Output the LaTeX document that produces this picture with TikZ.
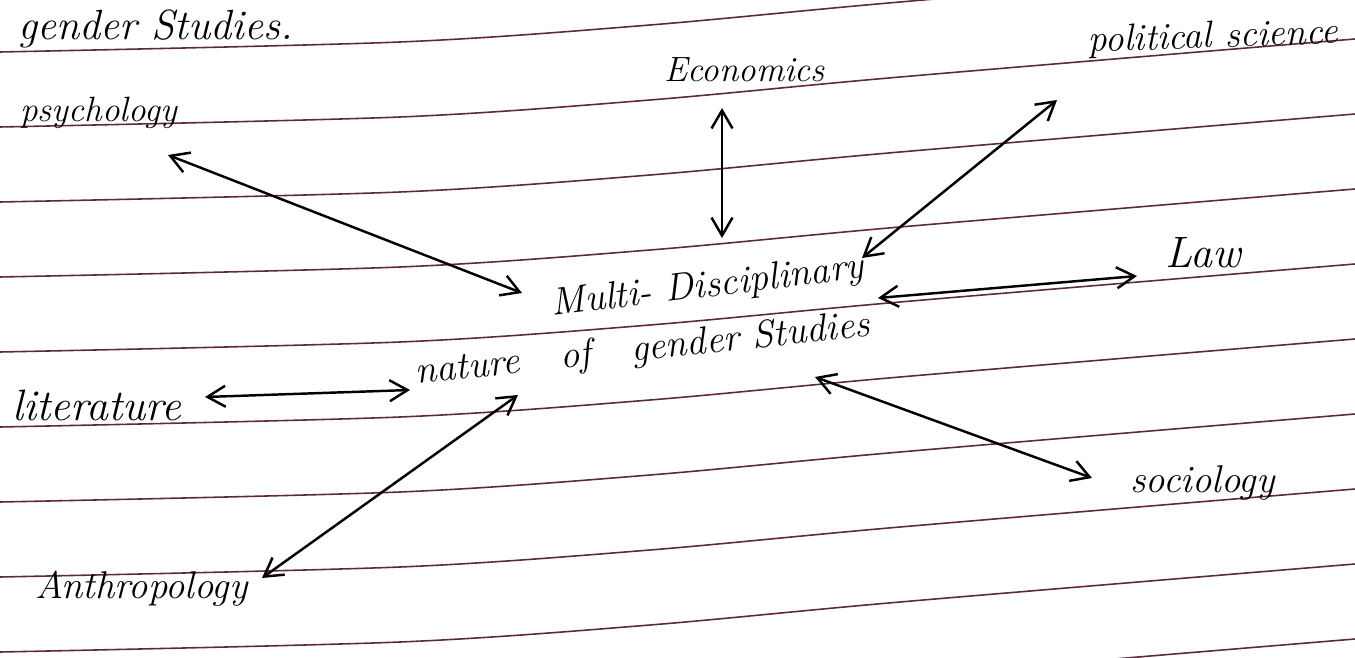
\documentclass[tikz,border=0pt]{standalone}
\usetikzlibrary{arrows.meta,calc}
\definecolor{ruling}{RGB}{92,42,62}
\tikzset{
  hand/.style={font=\fontsize{22}{26}\selectfont\itshape, text=black, inner sep=0pt, anchor=base west},
  fs/.style={font=\fontsize{#1}{#1}\selectfont\itshape},
  biarrow/.style={{Straight Barb[length=0.36cm,width=0.42cm]}-{Straight Barb[length=0.36cm,width=0.42cm]}, line width=1.4pt, draw=black},
  ruleline/.style={draw=ruling, line width=0.9pt}
}
\begin{document}
\begin{tikzpicture}[x=0.02cm,y=-0.02cm]
\useasboundingbox (0,0) rectangle (1355,658);
\fill[white] (0,0) rectangle (1355,658);
\begin{scope}
  \clip (0,0) rectangle (1355,658);
  \foreach \L in {52,127,...,727}{
    \draw[ruleline, shift={(0,\L)}] plot[smooth] coordinates {(0,0) (400,-10) (650,-27) (900,-50) (1355,-88)};
  }
\end{scope}

\node[hand, fs=24] (gs) at (18,40) {gender Studies.};
\node[hand, fs=20] (psych) at (20,122) {psychology};
\node[hand, fs=20] (econ) at (664,82) {Economics};
\node[hand, fs=21.5, rotate=2] (pol) at (1088,52) {political science};
\node[hand, fs=25] (law) at (1165,268) {Law};
\node[hand, rotate=7] (multi) at (552,316) {Multi- Disciplinary};
\node[hand, rotate=6] (nature) at (416,384) {nature \ \ of \ \ gender Studies};
\node[hand, fs=25] (lit) at (12,420) {literature};
\node[hand] (anth) at (35,598) {Anthropology};
\node[hand] (soc) at (1130,492) {sociology};

\draw[biarrow] ($(psych.base west)+(148,33)$) -- ($(multi.base west)+(-30,-23)$);
\draw[biarrow] ($(econ.base west)+(58,26)$) -- ($(multi.base west)+(170,-78)$);
\draw[biarrow] ($(pol.base west)+(-31,48)$) -- ($(multi.base west)+(310,-58)$);
\draw[biarrow] ($(law.base west)+(-28,8)$) -- ($(multi.base west)+(326,-18)$);
\draw[biarrow] ($(lit.base west)+(193,-23)$) -- ($(nature.base west)+(-6,6)$);
\draw[biarrow] ($(anth.base west)+(227,-20)$) -- ($(nature.base west)+(102,11)$);
\draw[biarrow] ($(soc.base west)+(-38,-14)$) -- ($(nature.base west)+(399,-7)$);
\end{tikzpicture}
\end{document}
